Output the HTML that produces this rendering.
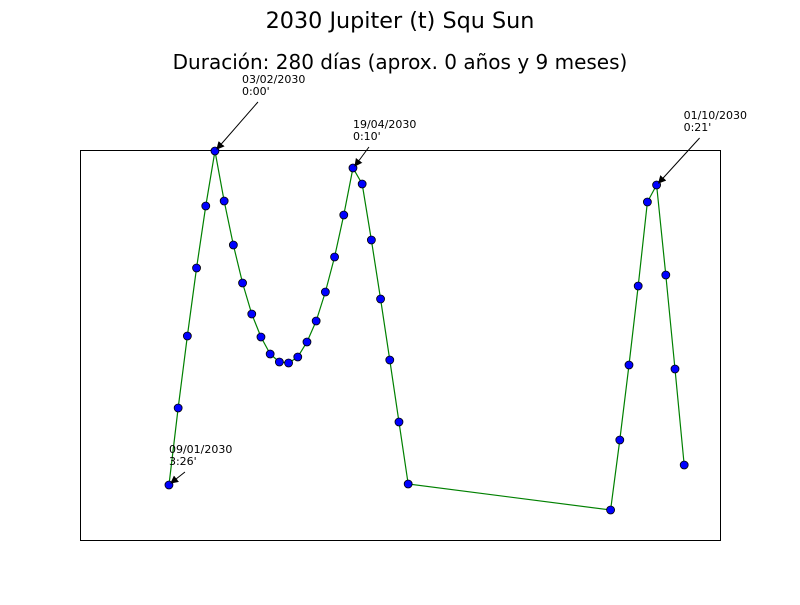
<!DOCTYPE html>
<html><head><meta charset="utf-8"><style>
body{margin:0;background:#fff}
svg text{font-family:"DejaVu Sans","Liberation Sans",sans-serif}
</style></head><body>
<svg id="chart" width="800" height="600" xmlns="http://www.w3.org/2000/svg">
<defs><marker id="ah" markerWidth="8" markerHeight="8" refX="7" refY="4" orient="auto"><path d="M0,0 L8,4 L0,8 z" fill="#000"/></marker></defs>
<rect width="800" height="600" fill="#fff"/>
<text x="400" y="28" text-anchor="middle" font-size="22.3">2030 Jupiter (t) Squ Sun</text>
<text x="400" y="69" text-anchor="middle" font-size="20">Duración: 280 días (aprox. 0 años y 9 meses)</text>
<rect x="80.5" y="150.5" width="640" height="390" fill="none" stroke="#000"/>
<g id="series"></g>
<g id="notes"></g>
</svg>
<script>
const days=[0,5,10,15,20,25,30,35,40,45,50,55,60,65,70,75,80,85,90,95,100,105,110,115,120,125,130,240,245,250,255,260,265,270,275,280];
const orb=[33.5,25.8,18.6,11.8,5.6,0.1,5.1,9.5,13.3,16.4,18.7,20.4,21.2,21.3,20.7,19.2,17.1,14.2,10.7,6.5,1.8,3.4,9.0,14.9,21.0,27.2,33.4,36.0,29.0,21.5,13.6,5.2,3.5,12.5,21.9,31.5];
const noteIdx=[0,5,20,32];
const noteLabels=[["09/01/2030","3:26'"],["03/02/2030","0:00'"],["19/04/2030","0:10'"],["01/10/2030","0:21'"]];
const noteOffsets=[[0,-40],[27,-76],[0,-48],[27,-74]];
const xs=d=>81+(d+47.8)/(300+47.8)*640;
const ys=v=>150+v/39*390;
const ns="http://www.w3.org/2000/svg";
const g=document.getElementById('series');
const line=document.createElementNS(ns,'polyline');
line.setAttribute('points',days.map((d,i)=>xs(d)+','+ys(orb[i])).join(' '));
line.setAttribute('fill','none');line.setAttribute('stroke','#008000');line.setAttribute('stroke-width','1.2');


g.appendChild(line);
days.forEach((d,i)=>{
 const c=document.createElementNS(ns,'circle');
 c.setAttribute('cx',xs(d));c.setAttribute('cy',ys(orb[i]));c.setAttribute('r','4');
 c.setAttribute('fill','#0000ff');c.setAttribute('stroke','#000');c.setAttribute('stroke-width','0.8');
 
 
 g.appendChild(c);
});
const n=document.getElementById('notes');
noteIdx.forEach((k,j)=>{
 const px=xs(days[k]),py=ys(orb[k]);
 const tx=px+noteOffsets[j][0],ty=py+noteOffsets[j][1];
 const a=document.createElementNS(ns,'line');
 a.setAttribute('x1',tx+16);a.setAttribute('y1',ty+27);a.setAttribute('x2',px+2);a.setAttribute('y2',py-2);
 a.setAttribute('stroke','#000');a.setAttribute('marker-end','url(#ah)');
 
 
 n.appendChild(a);
 noteLabels[j].forEach((s,l)=>{
  const t=document.createElementNS(ns,'text');
  t.setAttribute('x',tx);t.setAttribute('y',ty+8+l*12);t.setAttribute('font-size','11');
  t.textContent=s;
  
  
  n.appendChild(t);
 });
});
</script>
</body></html>
